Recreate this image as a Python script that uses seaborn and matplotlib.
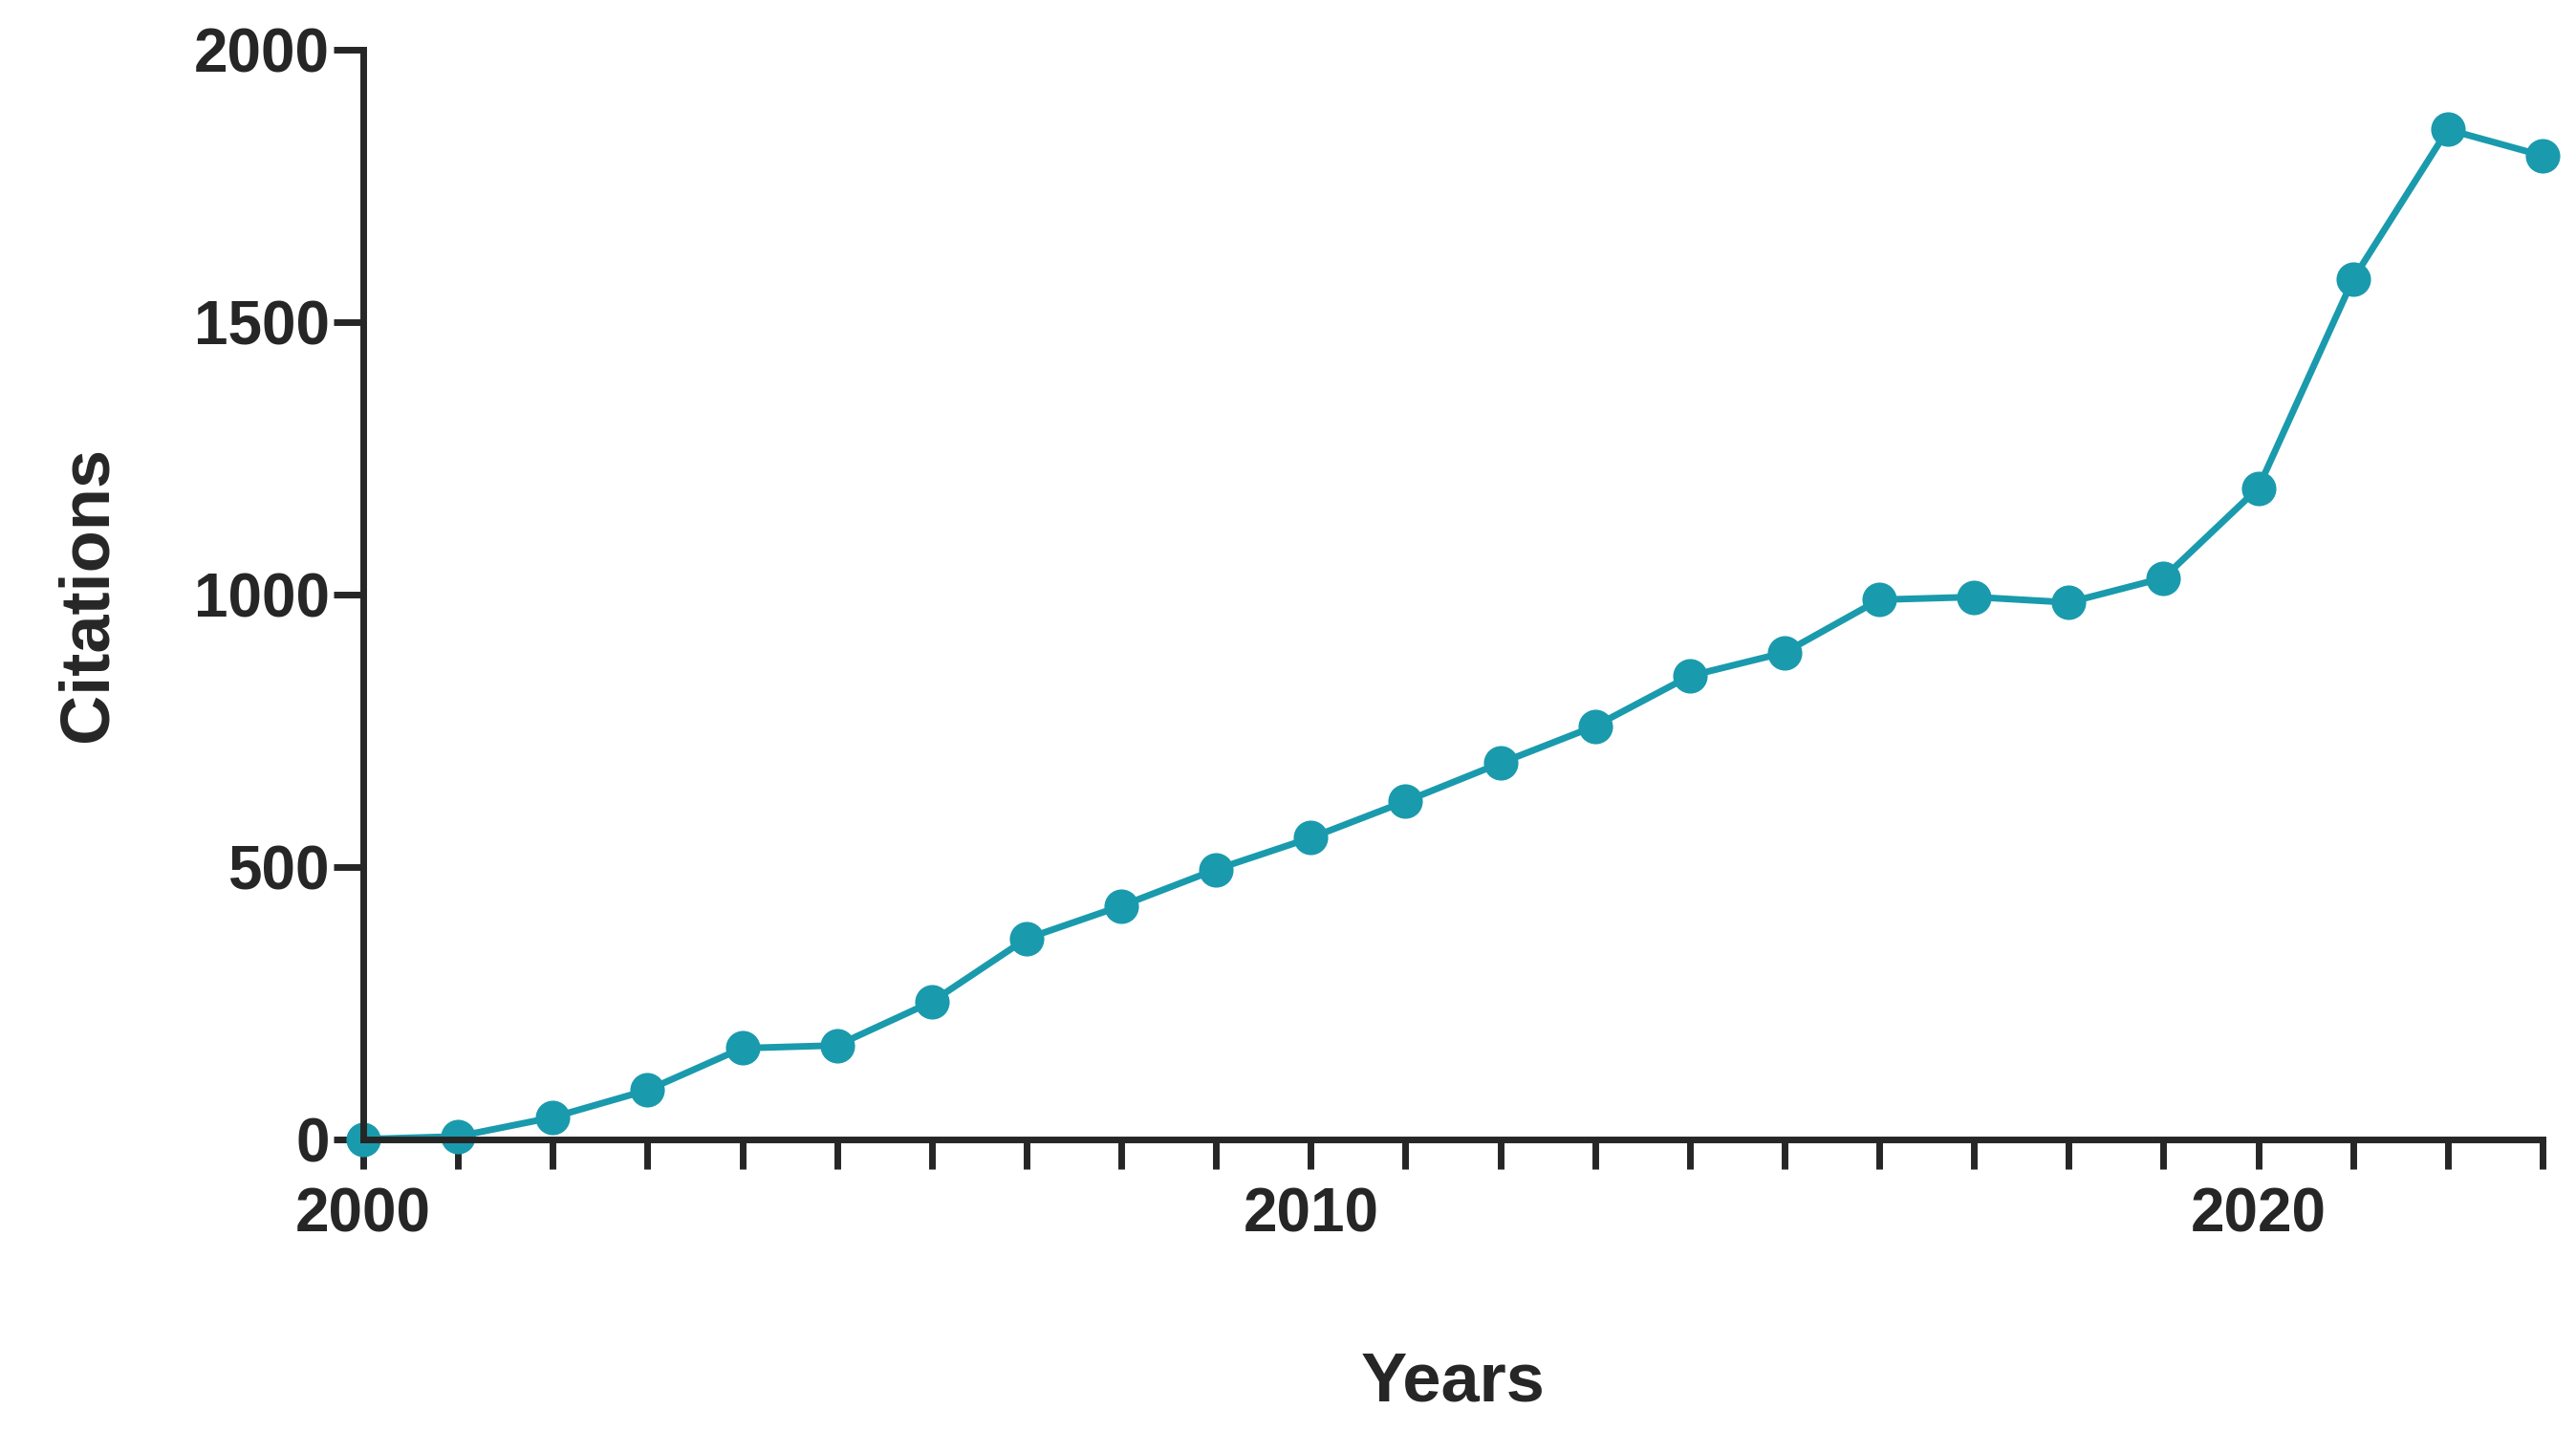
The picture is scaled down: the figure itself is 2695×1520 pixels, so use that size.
import matplotlib
matplotlib.use("Agg")
import matplotlib.pyplot as plt
import seaborn as sns
import pandas as pd

years = list(range(2000, 2024))
citations = [0, 5, 40, 90, 167, 172, 252, 368, 428, 495, 553, 620, 690, 758,
             850, 893, 990, 995, 985, 1030, 1195, 1578, 1853, 1805]
major_years = [2000, 2010, 2020]
y_ticks = [0, 500, 1000, 1500, 2000]

sns.set_theme(style="ticks")
plt.rcParams["font.family"] = ["Liberation Sans", "DejaVu Sans"]
plt.rcParams["font.weight"] = "bold"

df = pd.DataFrame({"Years": years, "Citations": citations})

fig = plt.figure(figsize=(26.95, 15.2), dpi=100)
ax = fig.add_axes([0.141, 0.216, 0.846, 0.75])
sns.lineplot(data=df, x="Years", y="Citations", ax=ax, color="#1a9aad",
             linewidth=5, marker="o", markersize=26, markeredgewidth=0,
             clip_on=False)

ax.set_xlim(2000, 2023)
ax.set_ylim(0, 2000)
ax.set_xticks(major_years)
ax.set_xticks(years, minor=True)
ax.set_yticks(y_ticks)
ax.tick_params(axis="both", which="both", width=5, length=22, labelsize=46)
ax.tick_params(axis="x", which="major", pad=14)
for lab in ax.get_xticklabels() + ax.get_yticklabels():
    lab.set_fontweight("bold")
for s in ["left", "bottom"]:
    ax.spines[s].set_linewidth(5)
sns.despine(ax=ax)
ax.set_xlabel("Years", fontsize=52, fontweight="bold", labelpad=80)
ax.set_ylabel("Citations", fontsize=52, fontweight="bold", labelpad=55)

fig.savefig("out.png", dpi=100)
